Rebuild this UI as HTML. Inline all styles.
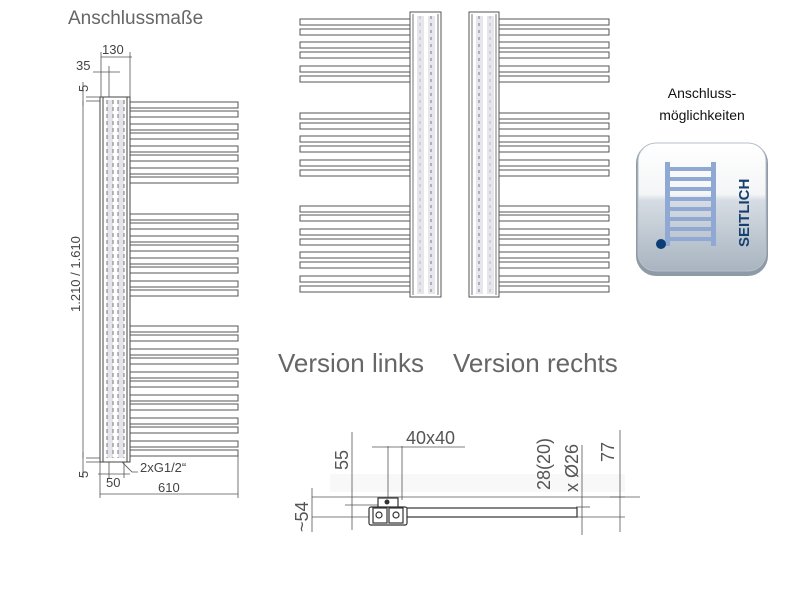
<!DOCTYPE html>
<html><head><meta charset="utf-8"><style>
body{margin:0;background:#fff;}
svg{display:block;font-family:"Liberation Sans",sans-serif;}
</style></head><body>
<svg width="800" height="600" viewBox="0 0 800 600" xmlns="http://www.w3.org/2000/svg">
<defs>
<g id="lb"><rect x="130" y="0" width="108" height="6" fill="#fff" stroke="#555" stroke-width="1"/></g>
<g id="mb"><rect x="0" y="0" width="110" height="6" fill="#fff" stroke="#555" stroke-width="1"/></g>
<linearGradient id="ig" x1="0" y1="0" x2="0" y2="1">
<stop offset="0" stop-color="#fff"/><stop offset="0.4" stop-color="#f4f5f6"/><stop offset="0.45" stop-color="#d6dce3"/><stop offset="1" stop-color="#a8b4c0"/></linearGradient>
</defs>

<text x="68" y="24" font-size="19" fill="#666">Anschlussmaße</text>

<g>
<use href="#lb" y="102"/><use href="#lb" y="111"/>
<use href="#lb" y="124"/><use href="#lb" y="133"/>
<use href="#lb" y="146"/><use href="#lb" y="155"/>
<use href="#lb" y="168"/><use href="#lb" y="177"/>
<use href="#lb" y="214"/><use href="#lb" y="223"/>
<use href="#lb" y="236"/><use href="#lb" y="245"/>
<use href="#lb" y="258"/><use href="#lb" y="267"/>
<use href="#lb" y="281"/><use href="#lb" y="290"/>
<use href="#lb" y="326"/><use href="#lb" y="335"/>
<use href="#lb" y="349"/><use href="#lb" y="358"/>
<use href="#lb" y="372"/><use href="#lb" y="381"/>
<use href="#lb" y="395"/><use href="#lb" y="404"/>
<use href="#lb" y="418"/><use href="#lb" y="427"/>
<use href="#lb" y="441"/><use href="#lb" y="450"/>
</g>
<rect x="100" y="97" width="30" height="365" fill="#fff" stroke="#444"/>
<line x1="103" y1="97" x2="103" y2="462" stroke="#444"/>
<line x1="127" y1="97" x2="127" y2="462" stroke="#444"/>
<rect x="107" y="100" width="6" height="358" fill="#e4e4ea"/>
<rect x="118" y="100" width="6" height="358" fill="#e4e4ea"/>
<g stroke="#777" stroke-dasharray="4,3">
<line x1="107" y1="100" x2="107" y2="458"/><line x1="113" y1="100" x2="113" y2="458"/>
<line x1="118" y1="100" x2="118" y2="458"/><line x1="124" y1="100" x2="124" y2="458"/>
</g>
<g stroke="#555" stroke-width="0.8" fill="none">
<line x1="101" y1="52" x2="101" y2="97"/><line x1="130" y1="52" x2="130" y2="97"/>
<line x1="101" y1="57" x2="132" y2="57"/>
<line x1="93" y1="72" x2="120" y2="72"/><line x1="109" y1="66" x2="109" y2="97"/>
<line x1="86" y1="97" x2="100" y2="97"/><line x1="86" y1="101" x2="100" y2="101"/>
<line x1="83" y1="82" x2="83" y2="106"/>
<line x1="83" y1="101" x2="83" y2="458"/>
<line x1="86" y1="458" x2="100" y2="458"/><line x1="86" y1="462" x2="100" y2="462"/>
<line x1="83" y1="452" x2="83" y2="478"/>
<line x1="100" y1="462" x2="100" y2="498"/><line x1="238" y1="456" x2="238" y2="498"/>
<line x1="109" y1="462" x2="109" y2="478"/><line x1="124" y1="462" x2="124" y2="478"/>
<line x1="98" y1="474" x2="130" y2="474"/>
<line x1="100" y1="494" x2="238" y2="494"/>
<polyline points="122,462 132,472 138,472"/>
</g>
<g fill="#444" font-size="13">
<text x="102" y="54">130</text>
<text x="76" y="70">35</text>
<text transform="translate(88,92) rotate(-90)">5</text>
<text transform="translate(80,312) rotate(-90)">1.210 / 1.610</text>
<text transform="translate(88,478) rotate(-90)">5</text>
<text x="106" y="487">50</text>
<text x="158" y="492">610</text>
<text x="140" y="472">2xG1/2“</text>
</g>

<g transform="translate(300,0)">
<use href="#mb" y="19"/><use href="#mb" y="29"/>
<use href="#mb" y="42"/><use href="#mb" y="52"/>
<use href="#mb" y="66"/><use href="#mb" y="76"/>
<use href="#mb" y="113"/><use href="#mb" y="123"/>
<use href="#mb" y="136"/><use href="#mb" y="146"/>
<use href="#mb" y="160"/><use href="#mb" y="170"/>
<use href="#mb" y="206"/><use href="#mb" y="215"/>
<use href="#mb" y="229"/><use href="#mb" y="239"/>
<use href="#mb" y="252"/><use href="#mb" y="262"/>
<use href="#mb" y="276"/><use href="#mb" y="286"/>
</g>
<g transform="translate(499,0)">
<use href="#mb" y="19"/><use href="#mb" y="29"/>
<use href="#mb" y="42"/><use href="#mb" y="52"/>
<use href="#mb" y="66"/><use href="#mb" y="76"/>
<use href="#mb" y="113"/><use href="#mb" y="123"/>
<use href="#mb" y="136"/><use href="#mb" y="146"/>
<use href="#mb" y="160"/><use href="#mb" y="170"/>
<use href="#mb" y="206"/><use href="#mb" y="215"/>
<use href="#mb" y="229"/><use href="#mb" y="239"/>
<use href="#mb" y="252"/><use href="#mb" y="262"/>
<use href="#mb" y="276"/><use href="#mb" y="286"/>
</g>
<g stroke="#555" fill="#fff">
<rect x="410" y="12" width="31" height="285"/>
<rect x="469" y="12" width="30" height="285"/>
</g>
<g stroke="#777" fill="none">
<line x1="413" y1="14" x2="413" y2="295"/><line x1="438" y1="14" x2="438" y2="295"/>
<line x1="472" y1="14" x2="472" y2="295"/><line x1="496" y1="14" x2="496" y2="295"/>
</g>
<g fill="#e6e6ec">
<rect x="417" y="16" width="7" height="278"/><rect x="428" y="16" width="7" height="278"/>
<rect x="476" y="16" width="7" height="278"/><rect x="487" y="16" width="7" height="278"/>
</g>
<g stroke="#b0b0b8" stroke-dasharray="3,4" stroke-width="2">
<line x1="431" y1="16" x2="431" y2="294"/><line x1="479" y1="16" x2="479" y2="294"/>
<line x1="420" y1="16" x2="420" y2="294" stroke="#d0d0d6"/><line x1="490" y1="16" x2="490" y2="294" stroke="#d0d0d6"/>
</g>
<text x="278" y="372" font-size="26" fill="#666">Version links</text>
<text x="453" y="372" font-size="26" fill="#666">Version rechts</text>

<rect x="330" y="474" width="295" height="18" fill="#f3f3f3" opacity="0.6"/>
<g stroke="#555" stroke-width="0.8" fill="none">
<line x1="312" y1="497" x2="640" y2="497"/>
<line x1="352" y1="432" x2="352" y2="530"/>
<line x1="388" y1="446" x2="388" y2="500"/><line x1="402" y1="446" x2="402" y2="500"/>
<line x1="372" y1="447" x2="465" y2="447"/>
<line x1="312" y1="488" x2="312" y2="532"/>
<line x1="312" y1="517" x2="380" y2="517"/>
<line x1="345" y1="505" x2="378" y2="505"/>
<line x1="582" y1="445" x2="582" y2="535"/>
<line x1="576" y1="507" x2="590" y2="507"/><line x1="576" y1="517" x2="625" y2="517"/>
<line x1="620" y1="430" x2="620" y2="532"/>
<line x1="610" y1="497" x2="625" y2="497"/>
</g>
<g stroke="#333" stroke-width="1.2" fill="#fff">
<rect x="400" y="508" width="177" height="9"/>
<rect x="378" y="498" width="20" height="10"/>
<rect x="369" y="507" width="38" height="18" rx="2"/>
<rect x="373" y="508" width="14" height="15"/><rect x="389" y="508" width="14" height="15"/>
<circle cx="379" cy="515" r="3"/><circle cx="396" cy="515" r="3"/>
</g>
<circle cx="387" cy="502" r="2.5" fill="#333"/>
<g fill="#555" font-size="18">
<text x="406" y="444">40x40</text>
<text transform="translate(348,470) rotate(-90)">55</text>
<text transform="translate(308,532) rotate(-90)">~54</text>
<text transform="translate(550,490) rotate(-90)">28(20)</text>
<text transform="translate(578,492) rotate(-90)">x Ø26</text>
<text transform="translate(614,462) rotate(-90)">77</text>
</g>

<text x="702" y="98" font-size="14" fill="#111" text-anchor="middle">Anschluss-</text>
<text x="702" y="120" font-size="14" fill="#111" text-anchor="middle">möglichkeiten</text>
<rect x="636" y="143" width="132" height="133" rx="20" fill="#8e9aa6"/>
<rect x="638" y="143" width="128" height="128" rx="18" fill="url(#ig)" stroke="#b8c0c8"/>
<g fill="#8fa8d4">
<rect x="665" y="162" width="5" height="84"/><rect x="711" y="162" width="5" height="84"/>
<rect x="670" y="167" width="41" height="4"/><rect x="670" y="177" width="41" height="4"/>
<rect x="670" y="187" width="41" height="4"/><rect x="670" y="197" width="41" height="4"/>
<rect x="670" y="207" width="41" height="4"/><rect x="670" y="217" width="41" height="4"/>
<rect x="670" y="227" width="41" height="4"/><rect x="670" y="237" width="41" height="4"/>
</g>
<circle cx="661" cy="244" r="5" fill="#0d3d75"/>
<text transform="translate(749,247) rotate(-90)" font-size="15" font-weight="bold" fill="#17406e">SEITLICH</text>
</svg>
</body></html>
